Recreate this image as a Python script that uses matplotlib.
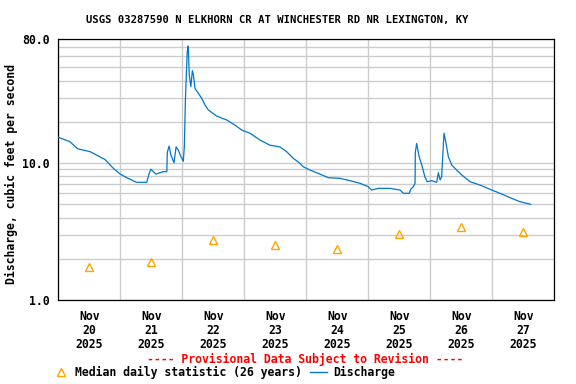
import matplotlib
matplotlib.use('Agg')
import matplotlib.pyplot as plt
import matplotlib.dates as mdates
import matplotlib.ticker as mticker
from matplotlib.lines import Line2D
import pandas as pd

# Discharge, hours after 2025-11-20 00:00 and cfs
hours = [0, 4.5, 7.5, 12.3, 18.1, 21.3, 24, 26.5, 30.3, 34.2, 35.2, 35.8, 37.8,
         40.6, 42.0, 42.2, 42.9, 43.6, 44.8, 45.6, 46.5, 47.4, 48.4, 48.8,
         49.2, 49.9, 50.3, 50.7, 51.3, 51.9, 52.3, 52.9, 54.2, 55.5, 56.8,
         58.1, 61.3, 65.2, 68.4, 71.0, 74.2, 78.1, 81.9, 85.8, 88.4, 91.0,
         93.3, 94.8, 97.4, 101.3, 104.5, 109.0, 112.9, 116.8, 120.0, 121.3,
         123.9, 128.4, 132.3, 133.6, 135.9, 136.4, 137.4, 138.1, 138.2, 138.7,
         139.7, 140.7, 141.9, 142.8, 144.5, 146.5, 147.1, 147.8, 148.4, 148.8,
         149.3, 150.1, 151.0, 152.3, 154.2, 156.2, 159.4, 163.2, 167.1, 171.0,
         175.5, 178.7, 182.9]
flow = [15.4, 14.3, 12.7, 12.1, 10.6, 9.15, 8.3, 7.81, 7.23, 7.23, 8.41, 9.0, 8.3,
        8.64, 8.64, 11.97, 13.3, 11.4, 10.05, 13.1, 12.4, 11.2, 10.3, 13.3,
        28.8, 64.9, 71.5, 43.9, 36.1, 47.2, 43.9, 35.1, 32.3, 29.7, 26.5,
        24.4, 22.0, 20.6, 18.9, 17.4, 16.5, 14.7, 13.5, 13.1, 12.1, 10.8,
        10.05, 9.4, 8.89, 8.3, 7.81, 7.73, 7.43, 7.11, 6.71, 6.35,
        6.53, 6.53, 6.35, 6.01, 6.01, 6.43, 6.71, 7.11, 11.9, 13.9,
        11.1, 9.67, 7.94, 7.3, 7.43, 7.23, 8.5, 7.52, 7.94, 11.1,
        16.5, 13.9, 11.1, 9.67, 8.89, 8.17, 7.3, 6.91, 6.43, 6.01,
        5.52, 5.22, 4.99]

# Median daily statistic (26 years)
median_days = ['2025-11-20', '2025-11-21', '2025-11-22', '2025-11-23',
               '2025-11-24', '2025-11-25', '2025-11-26', '2025-11-27']
median_cfs = [1.73, 1.91, 2.73, 2.53, 2.34, 3.01, 3.43, 3.11]

plt.rcParams['font.family'] = 'DejaVu Sans Mono'
plt.rcParams['font.weight'] = 'bold'

times = pd.Timestamp('2025-11-20') + pd.to_timedelta(hours, unit='h')
median_times = pd.to_datetime(median_days) + pd.Timedelta(hours=12)

fig = plt.figure(figsize=(5.76, 3.84), dpi=100)
ax = fig.add_axes([58.3 / 576, 1 - 300 / 384, 496 / 576, 260.7 / 384])

ax.plot(times, flow, color='#0077cc', lw=0.9, zorder=3)
ax.plot(median_times, median_cfs, linestyle='none', marker='^', ms=6.3,
        mfc='none', mec='#ffa500', mew=1.0, zorder=4)

ax.set_yscale('log')
ax.set_ylim(1, 80)
ax.set_xlim(pd.Timestamp('2025-11-20'), pd.Timestamp('2025-11-28'))

ax.yaxis.set_major_locator(mticker.FixedLocator([1, 10, 80]))
ax.yaxis.set_major_formatter(mticker.FormatStrFormatter('%.1f'))
ax.yaxis.set_minor_locator(mticker.FixedLocator([2, 3, 4, 5, 6, 7, 8, 9,
                                                 20, 30, 40, 50, 60, 70]))
ax.yaxis.set_minor_formatter(mticker.NullFormatter())

ax.xaxis.set_major_locator(mdates.DayLocator())
ax.xaxis.set_major_formatter(mticker.NullFormatter())
ax.xaxis.set_minor_locator(mdates.HourLocator(byhour=[12]))
ax.xaxis.set_minor_formatter(mdates.DateFormatter('%b\n%d\n%Y'))

ax.grid(which='both', axis='y', color='#cccccc', lw=1.0)
ax.grid(which='major', axis='x', color='#cccccc', lw=1.0)
ax.set_axisbelow(True)

ax.tick_params(axis='both', which='both', length=0, labelsize=8.3)
ax.tick_params(axis='y', pad=6)
ax.tick_params(axis='x', which='minor', pad=7)
for lab in ax.get_xticklabels(minor=True):
    lab.set_linespacing(1.1)

for sp in ax.spines.values():
    sp.set_linewidth(0.9)
    sp.set_color('black')

fig.text(277 / 576, 1 - 20.3 / 384,
         'USGS 03287590 N ELKHORN CR AT WINCHESTER RD NR LEXINGTON, KY',
         ha='center', va='center', fontsize=7.6, fontweight='bold')
fig.text(11.7 / 576, 1 - 174.3 / 384, 'Discharge, cubic feet per second',
         rotation=90, ha='center', va='center', fontsize=8.3, fontweight='bold')
fig.text(305.5 / 576, 1 - 359 / 384,
         '---- Provisional Data Subject to Revision ----',
         ha='center', va='center', fontsize=8.3, fontweight='bold', color='red')

handles = [Line2D([], [], linestyle='none', marker='^', ms=6.3, mfc='none',
                  mec='#ffa500', mew=1.0),
           Line2D([], [], color='#0077cc', lw=1.0)]
fig.legend(handles, ['Median daily statistic (26 years)', 'Discharge'],
           loc='center left', bbox_to_anchor=(52.2 / 576, 1 - 372.7 / 384),
           ncol=2, frameon=False, fontsize=8.3, handlelength=1.48,
           handletextpad=0.5, columnspacing=0.7, borderpad=0, borderaxespad=0)

fig.savefig('out.png', dpi=100)
